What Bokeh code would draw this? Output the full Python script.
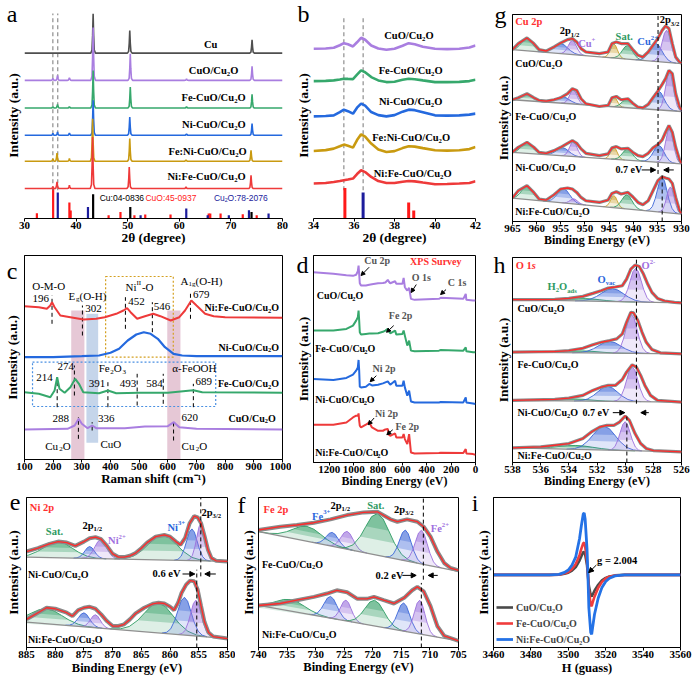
import numpy as np
from bokeh.plotting import figure
from bokeh.models import (Range1d, FixedTicker, Label, Arrow, NormalHead, Legend, LegendItem,
                          CustomJSTickFormatter, Title)
from bokeh.layouts import row, column
from bokeh.embed import file_html
from bokeh.resources import INLINE

SERIF = "Liberation Serif"
SANS = "Liberation Sans"
S = 1.0  # reference px -> page px

# ------------------------------------------------------------------ DATA
# (a) XRD patterns: stacking offsets, peak positions (2theta) and peak heights (a.u.)
A_SAMPLES = ["Cu", "CuO/Cu2O", "Fe-CuO/Cu2O", "Ni-CuO/Cu2O", "Fe:Ni-CuO/Cu2O", "Ni:Fe-CuO/Cu2O"]
A_OFFSETS = [165.6, 138.3, 110.6, 83.3, 57.3, 30.0]
A_PEAK_POS = [
    [43.3, 50.4, 74.1],
    [35.5, 36.4, 38.7, 43.3, 50.5, 61.4, 74.1],
    [35.5, 36.4, 38.7, 43.3, 50.5, 61.4, 74.1],
    [35.5, 36.4, 38.7, 43.3, 50.4, 61.4, 74.1],
    [35.5, 36.3, 38.7, 43.2, 50.4, 61.3, 73.9],
    [35.5, 36.3, 38.7, 43.2, 50.3, 61.3, 73.9],
]
A_PEAK_H = [
    [39.5, 22.7, 13.4],
    [2.0, 5.0, 2.7, 53.0, 26.7, 1.5, 14.0],
    [1.5, 3.7, 1.5, 37.7, 21.0, 1.2, 13.7],
    [2.0, 3.3, 2.3, 35.0, 18.3, 1.5, 11.7],
    [2.5, 8.3, 2.7, 42.7, 22.7, 1.3, 11.0],
    [2.0, 6.6, 3.3, 51.6, 21.6, 1.5, 13.3],
]
# reference cards (stick positions / relative heights)
REF_CU_POS = [43.3, 50.5, 74.0]
REF_CU_H = [24.3, 11.6, 6.6]
REF_CUO_POS = [32.4, 35.55, 38.7, 38.95, 46.3, 48.6, 51.3, 53.4, 58.3, 65.7, 66.0, 68.0, 72.3, 75.0]
REF_CUO_H = [5.3, 30.5, 16.0, 8.0, 3.3, 6.6, 3.3, 4.0, 4.0, 5.0, 5.0, 5.0, 4.3, 3.3]
REF_CU2O_POS = [36.45, 42.3, 52.5, 61.35, 65.5, 69.6, 73.5, 77.3]
REF_CU2O_H = [26.0, 11.6, 3.3, 10.0, 3.3, 3.3, 8.3, 5.0]

# (b) zoomed XRD
B_X = [34.0, 34.6, 35.0, 35.3, 35.5, 35.7, 35.95, 36.15, 36.35, 36.55, 36.85, 37.2, 37.6, 38.0,
       38.4, 38.7, 39.0, 39.4, 40.0, 40.6, 41.2, 41.7, 42.0]
B_CUO = [170, 170.3, 171, 173.5, 175.6, 174.5, 172.3, 176.5, 181, 179, 173.3, 170.3, 169, 170,
         173, 175.6, 174.5, 172, 170, 169.6, 170, 171.3, 173.3]
B_FE = [137.6, 137.8, 138.3, 139.2, 140, 139.8, 139.6, 144, 148.3, 146.5, 141.6, 138.3, 136.6, 137,
        139, 140, 139.5, 138.3, 136.6, 136.6, 136.8, 137.6, 139]
B_NI = [102.3, 102.6, 103.3, 106.5, 109, 107.5, 105, 111, 115, 113, 106.6, 103.5, 102.3, 103.5,
        107, 109, 108.5, 106.5, 103.3, 103, 103.3, 104, 105]
B_FENI = [67.6, 68.5, 70, 72.3, 74, 72.8, 71, 78.5, 84.3, 82, 75, 69, 66.6, 67.5,
          70.5, 72.3, 72, 70.5, 68.3, 68, 68.3, 69.5, 71.6]
B_NIFE = [35, 35.5, 36.6, 37.5, 38.3, 39, 40, 44.5, 48.3, 46.5, 41.6, 37.5, 35.5, 35.5,
          36.8, 37.6, 37.2, 36, 34.3, 34.6, 35, 35.6, 37.3]

# (c) Raman spectra
C_NIFE_X = [100, 150, 178, 190, 196, 205, 225, 260, 306, 350, 380, 420, 445, 458, 470, 493, 520, 549,
            574, 610, 640, 660, 682, 700, 730, 760, 800, 1000]
C_NIFE_Y = [153.3, 152.3, 150.7, 154, 157.3, 152.3, 144, 142.3, 140, 140.7, 142.3, 145.7, 149, 151.3,
            147.3, 140.7, 143.3, 145.7, 143.3, 139, 142.3, 149, 159, 154, 145.7, 143.3, 142.3, 141.7]
C_NI_X = [100, 200, 300, 360, 400, 430, 460, 490, 516, 540, 565, 590, 620, 650, 700, 1000]
C_NI_Y = [102.3, 102.3, 103.3, 104, 106.7, 110.7, 119, 125, 127.3, 125.7, 120.7, 112.3, 105.7, 104,
          103.3, 103.3]
C_FE_X = [100, 150, 190, 205, 214, 222, 240, 260, 277, 290, 305, 360, 391, 420, 500, 600, 689, 720, 1000]
C_FE_Y = [67.3, 65.7, 62.3, 69, 82.3, 70.7, 66.7, 72.3, 80.7, 75.7, 67.3, 66.3, 69, 66.3, 66.7, 66.7,
          69.3, 67.3, 66.7]
C_CUO_X = [100, 250, 275, 289, 300, 320, 336, 350, 450, 520, 600, 621, 640, 700, 1000]
C_CUO_Y = [30, 30.7, 34, 40.7, 35.7, 31.3, 34, 31.3, 31.3, 33, 33.3, 37.3, 32.3, 30.7, 30]
C_PEAKS_NIFE = [196, 302, 452, 546, 679]
C_PEAKS_FE = [214, 274, 391, 493, 584, 689]
C_PEAKS_CUO = [288, 336, 620]

# (d) XPS survey
D_BE = [1330, 1167, 1060, 1006, 980, 966, 960, 955, 950, 940, 900, 872, 850, 800, 760, 740, 720, 711,
        700, 660, 650, 600, 590, 580, 560, 545, 530, 500, 300, 285, 100, 80, 75, 20, 0]
D_CUO = [190, 188.4, 187, 186.4, 187.5, 191, 196.7, 188.4, 179, 176.7, 176.7, 177.5, 178, 179, 179.2,
         179.7, 182.4, 180.5, 179, 181, 178.4, 178.4, 184.4, 175, 171.7, 174.4, 163.4, 162.4, 163.4,
         164.5, 163.4, 168.4, 162.4, 161.7, 161.7]
D_FE = [131.7, 131.7, 133.4, 136.7, 141.7, 145, 151.7, 141.7, 130, 127.7, 128.4, 128.7, 128.8, 129,
        130.5, 131.7, 133.4, 131, 129, 131.7, 127.7, 128.4, 131.7, 126.7, 116.7, 121.7, 111.7, 111,
        111.7, 112.3, 111.7, 115, 111, 110, 110]
D_NI = [83.4, 82.4, 84.4, 87.7, 91.7, 95, 102.4, 91.7, 75.7, 75, 75.7, 78.4, 77, 77.7, 79, 80, 81,
        79.5, 77.7, 81.7, 76.7, 76.7, 81.7, 75, 66.7, 71.7, 61, 60, 60, 60.5, 60, 65, 60, 59, 58.4]
D_NIFE = [37.7, 37.7, 40, 45, 46.7, 46.7, 49, 41.7, 36.7, 35, 37.7, 40, 35, 31.7, 31.7, 33, 33.4,
          27.7, 26.7, 29, 25, 25, 28.4, 23.4, 18.4, 28.4, 10, 9, 9.4, 9.8, 9.4, 13.4, 9, 8.4, 7.7]

# Fitted-peak shape template (offsets in FWHM units, relative heights)
PU = [-1.4, -1.1, -0.85, -0.6, -0.4, -0.2, 0.0, 0.2, 0.4, 0.6, 0.85, 1.1, 1.4]
PV = [0.004, 0.035, 0.135, 0.37, 0.64, 0.9, 1.0, 0.9, 0.64, 0.37, 0.135, 0.035, 0.004]

# (g) Cu 2p: measured envelopes, baselines (left,right) and components (centre, height, fwhm, kind)
G_BE = [965, 963.8, 962, 960.6, 959.5, 958, 956.4, 955, 953.6, 952.6, 951.7, 950.8, 949.8, 947, 945.2,
        944.4, 943.5, 942.5, 941.1, 940.1, 939, 938, 936.9, 935.9, 934.9, 934, 933.3, 932.6, 931.9,
        931.2, 930.4, 930]
G_CUO = [171.4, 177.4, 183, 177.4, 171.4, 170, 174, 178, 181.4, 182.4, 179, 172.4, 169, 167.4, 169,
         177.4, 179, 177.4, 177.4, 171.4, 165.7, 164, 169, 175.7, 182.4, 190.7, 195, 192.4, 177.4, 164,
         159, 158]
G_FE = [121.4, 123.4, 127.4, 123.4, 120.7, 120, 121.4, 123.4, 127.4, 132.4, 130.7, 122.4, 117.4, 114.7,
        115.7, 123.4, 124.7, 121.4, 122.4, 118, 114, 113.4, 116.7, 123.4, 130, 136.7, 142.4, 150.7,
        147.4, 127.4, 114, 111.4]
G_NI = [69, 74, 79, 74, 69, 68, 70.7, 74, 78, 80.7, 78, 72.4, 68, 65.7, 67.4, 73.4, 74.7, 72.4, 73, 69,
        65.7, 64.7, 68, 73.4, 76.7, 81.4, 89, 95.7, 89, 74, 61.4, 58]
G_NIFE = [23.4, 30.7, 35.7, 29, 22.4, 21.4, 26.7, 32.4, 33.4, 32.4, 29, 24, 20.7, 19, 21.4, 28, 29.7,
          27.4, 29, 24.7, 19, 16.7, 20.7, 30.7, 40.7, 44.7, 43.4, 42.4, 38, 24, 10.7, 8]
G_BASE = [(171.4, 157.4), (121.4, 109.7), (69.0, 57.4), (23.4, 7.4)]
G_COMP_CUO = [(962.0, 13, 2.6, "g"), (955.0, 10, 3.4, "b"), (952.6, 14, 2.0, "p"), (944.0, 14, 1.7, "y"),
              (941.2, 13.5, 2.5, "g"), (935.3, 18, 3.0, "b"), (933.1, 32, 2.2, "p")]
G_COMP_FE = [(962.0, 6.5, 2.6, "g"), (954.6, 6.5, 3.2, "b"), (952.4, 14, 1.8, "p"), (944.0, 10, 1.6, "y"),
             (941.3, 8.5, 2.4, "g"), (934.8, 19, 2.8, "b"), (932.5, 38, 1.9, "p")]
G_COMP_NI = [(962.0, 11, 2.6, "g"), (954.6, 8, 3.0, "b"), (952.4, 15, 1.8, "p"), (944.0, 12, 1.6, "y"),
             (941.2, 11, 2.4, "g"), (934.7, 17, 2.6, "b"), (932.5, 34, 1.9, "p")]
G_COMP_NIFE = [(962.0, 13.5, 2.6, "g"), (954.4, 14, 3.0, "b"), (952.3, 5, 1.8, "p"), (944.0, 12, 1.6, "y"),
               (941.3, 14, 2.5, "g"), (934.0, 35, 2.4, "b"), (932.3, 26, 1.8, "p")]

# (h) O 1s
H_BE_CUO = [538, 536, 535, 534, 533, 532.3, 531.7, 531.2, 530.7, 530.2, 529.9, 529.6, 529.3, 529, 528.7,
            528.4, 528.1, 527.7, 527.2, 526.5, 526]
H_CUO = [163.3, 163.3, 163.6, 164.6, 166.6, 169.6, 172.3, 175, 176, 177.3, 184, 194, 198, 196.6, 189,
         179, 170.6, 164.6, 162, 160.6, 160]
H_BE_FE = [538, 535, 534, 533, 532.3, 531.7, 531.1, 530.6, 530.2, 529.9, 529.6, 529.4, 529.1, 528.8,
           528.5, 528.1, 527.5, 526]
H_FE = [110.6, 111.3, 112.3, 114.6, 118, 120.6, 122.3, 124, 129, 140.6, 150.6, 150, 142.3, 130.6, 120.6,
        113.3, 110, 109]
H_BE_NI = [538, 535, 534, 533, 532.3, 531.7, 531.2, 530.7, 530.2, 529.9, 529.5, 529.2, 528.9, 528.6,
           528.2, 527.7, 526]
H_NI = [62.3, 63.3, 64.6, 67.3, 72.3, 75.6, 77.3, 77.3, 83.3, 90.6, 98, 95.6, 87.3, 77.3, 67.3, 62.3, 60.6]
H_BE_NIFE = [538, 536, 535, 534, 533, 532.4, 531.8, 531.3, 530.8, 530.4, 530, 529.7, 529.3, 528.9, 528.5,
             528, 526]
H_NIFE = [14.6, 15.6, 17.3, 19, 24, 30.6, 35.6, 37.3, 37.3, 40.6, 46.6, 42.3, 29, 19, 14, 12, 10.6]
H_BASE = [(163.3, 160.0), (110.6, 109.0), (62.3, 60.6), (14.6, 10.6)]
H_COMP_CUO = [(532.8, 2.5, 2.5, "g"), (530.9, 13, 1.9, "b"), (529.25, 34, 0.95, "p")]
H_COMP_FE = [(533.0, 2.0, 2.5, "g"), (531.1, 11.7, 1.9, "b"), (529.55, 39, 0.95, "p")]
H_COMP_NI = [(533.5, 2.0, 2.5, "g"), (531.25, 15, 1.7, "b"), (529.5, 35, 0.95, "p")]
H_COMP_NIFE = [(533.5, 4.0, 3.0, "g"), (531.5, 24, 1.9, "b"), (530.0, 29, 0.85, "p")]

# (e) Ni 2p
E_BE_NI = [885, 883, 881, 879.5, 878, 876.5, 875, 874, 873, 872, 871, 870, 869, 868, 867, 866, 865, 864,
           862.5, 861, 860, 859, 858.2, 857.4, 856.6, 855.8, 855.2, 854.6, 854, 853.4, 852.8, 852, 850]
E_NI = [96.6, 100, 104.3, 106.6, 105.6, 102.3, 106.6, 110, 111, 109, 102.3, 94.3, 91, 91, 92.3, 95, 100,
        105.6, 111.6, 113.3, 111.6, 106.6, 103.3, 110, 125, 132.3, 131, 125, 112.3, 98.3, 90, 87.3, 86.6]
E_BE_NIFE = [885, 883, 881.5, 880, 878, 877, 876, 875, 874, 873, 872, 871, 870, 869, 868, 867, 866, 864.5,
             863, 862, 861, 860, 859.3, 858.6, 858, 857.2, 856.5, 855.8, 855.2, 854.6, 854, 853.3, 852.5, 850]
E_NIFE = [28.3, 35, 40, 39, 35, 31.6, 37.6, 40, 41, 39, 33.3, 26.6, 21.6, 21.6, 23.3, 28.3, 34.3, 40, 44,
          45, 44.3, 41, 37.6, 45, 55, 63.3, 67.3, 66.6, 58.3, 41.6, 25.6, 15, 11, 9]
E_BASE = [(91.0, 86.6), (25.6, 9.0)]
E_COMP_NI = [(879.5, 16, 6.0, "g"), (874.0, 12, 2.0, "b"), (872.1, 19, 2.4, "p"), (861.3, 25, 6.0, "g"),
             (856.2, 32, 2.2, "b"), (854.6, 38, 1.8, "p")]
E_COMP_NIFE = [(881.5, 15, 6.5, "g"), (875.0, 14, 2.3, "b"), (873.0, 13, 2.0, "p"), (862.0, 30, 6.0, "g"),
               (857.5, 38, 2.8, "b"), (855.5, 36, 2.2, "p")]

# (f) Fe 2p
F_BE_FE = [740, 736.2, 733.3, 730.3, 727.4, 724.5, 721.6, 719.2, 716.9, 715.7, 714, 712.2, 711.1, 709.9,
           708.7, 707.5, 706.4, 705]
F_FE = [118.3, 121.6, 123.3, 125.6, 129, 133.3, 136, 136.6, 129, 126.6, 129, 126.6, 121.6, 111.6, 96.6,
        85, 80, 77.6]
F_BE_NIFE = [740, 736.2, 733.3, 730.3, 728, 726.3, 724.5, 722.7, 721, 719.8, 718.1, 716.3, 714.5, 713.1,
             712.2, 711.1, 709.9, 708.7, 707.5, 705]
F_NIFE = [42.3, 44.3, 47.6, 51, 54.3, 57.6, 55.6, 49, 49, 51, 47.6, 44.3, 50, 57.6, 61, 56.6, 41.6, 21.6,
          11.6, 6.6]
F_BASE = [(116.6, 76.6), (42.3, 6.6)]
F_COMP_FE = [(731.5, 15, 6.0, "g"), (727.1, 14, 2.5, "b"), (724.5, 18, 2.5, "p"), (719.2, 42, 5.0, "g"),
             (714.3, 31, 2.5, "b"), (711.5, 34, 2.5, "p")]
F_COMP_NIFE = [(734.4, 11.7, 6.0, "g"), (727.4, 22, 2.7, "b"), (724.7, 21, 2.2, "p"), (719.7, 26, 4.0, "g"),
               (714.6, 28.5, 2.5, "b"), (711.8, 34, 2.2, "p")]

# (i) EPR
I_H = [3460, 3490, 3495, 3498, 3500, 3502, 3504, 3506, 3507, 3508, 3508.5, 3509, 3510, 3510.5, 3511,
       3512, 3512.5, 3513, 3514, 3516, 3518, 3520, 3522, 3525, 3530, 3560]
I_CUO = [0, 0, 0.2, 1.2, 2.2, 4.4, 8, 14.5, 19, 23, 23.3, 21, 10, 0, -11, -20.5, -21.7, -20, -16, -10,
         -5.5, -3, -1.5, -0.5, 0, 0]
I_FE = [0, 0, 0.3, 1.6, 3, 6, 11, 20, 26.6, 32, 32.6, 29, 14, 0, -16, -30, -31.7, -28, -22, -13, -7,
        -3.6, -1.8, -0.6, 0, 0]
I_NIFE = [0, 0, 0.6, 2.6, 5, 10, 18.3, 36.6, 50, 61.6, 62.6, 56.6, 26.6, 0, -33.3, -58.3, -60, -53.3,
          -40, -23.3, -12.6, -6.6, -3.3, -1, 0, 0]

# ------------------------------------------------------------------ STYLE
COL_CU = "#4f4f4f"; COL_PU = "#a97ee0"; COL_GR = "#36a86c"; COL_BL = "#2469de"; COL_GO = "#c99a10"
COL_RE = "#ee3a3a"
COMP = {"g": "#2f9d64", "b": "#3c66d8", "p": "#9b72dc", "y": "#c9a02c"}
TXT_GR = "#2e9a62"; TXT_BL = "#2a66dc"; TXT_PU = "#a070e0"; TXT_RE = "#ff3030"; TXT_GY = "#555555"

WID = {'A': .722, 'B': .667, 'C': .722, 'D': .722, 'E': .667, 'F': .611, 'G': .778, 'H': .778, 'I': .389,
       'J': .5, 'K': .778, 'L': .667, 'M': .944, 'N': .722, 'O': .778, 'P': .611, 'Q': .778, 'R': .722,
       'S': .556, 'T': .667, 'U': .722, 'V': .722, 'W': 1.0, 'X': .722, 'Y': .722, 'Z': .667,
       'a': .5, 'b': .556, 'c': .444, 'd': .556, 'e': .444, 'f': .333, 'g': .5, 'h': .556, 'i': .278,
       'j': .333, 'k': .556, 'l': .278, 'm': .833, 'n': .556, 'o': .5, 'p': .556, 'q': .556, 'r': .444,
       's': .389, 't': .333, 'u': .556, 'v': .5, 'w': .722, 'x': .5, 'y': .5, 'z': .444,
       ' ': .25, '-': .333, '/': .278, ':': .333, '.': .25, '(': .333, ')': .333, '+': .57, '=': .57}


class Panel:
    def __init__(self, tile, frame, xr, yr, box=True):
        tx, ty, tw_, th = tile
        fx0, fy0, fx1, fy1 = frame
        self.frame = frame
        self.xr = xr
        self.yr = yr
        self.box = box
        left = int(round(fx0 * S - tx))
        right = tw_ - int(round(fx1 * S - tx))
        top = int(round(fy0 * S - ty))
        bottom = th - int(round(fy1 * S - ty))
        p = figure(width=tw_, height=th, x_range=Range1d(xr[0], xr[1]), y_range=Range1d(yr[0], yr[1]),
                   output_backend="svg", toolbar_location=None, tools="",
                   min_border_left=left, min_border_right=right, min_border_top=top,
                   min_border_bottom=bottom)
        p.xgrid.visible = False
        p.ygrid.visible = False
        p.outline_line_color = "black" if box else None
        p.outline_line_width = 1
        p.background_fill_color = "white"
        p.border_fill_color = "white"
        self.fig = p

    def d(self, rx, ry):
        fx0, fy0, fx1, fy1 = self.frame
        x = self.xr[0] + (rx - fx0) / (fx1 - fx0) * (self.xr[1] - self.xr[0])
        y = self.yr[0] + (fy1 - ry) / (fy1 - fy0) * (self.yr[1] - self.yr[0])
        return x, y


def set_xaxis(P, ticks, title, title_standoff, title_size=12.5):
    ax = P.fig.xaxis[0]
    ax.ticker = FixedTicker(ticks=ticks)
    ax.major_label_text_font = SERIF
    ax.major_label_text_font_style = "bold"
    ax.major_label_text_font_size = "11px"
    ax.major_label_text_color = "black"
    ax.major_tick_in = 0
    ax.major_tick_out = 3
    ax.minor_tick_in = 0
    ax.minor_tick_out = 0
    ax.major_label_standoff = 0
    ax.axis_line_color = "black"
    ax.major_tick_line_color = "black"
    P.fig.add_layout(Title(text=title, align="center", vertical_align="middle", standoff=title_standoff,
                           text_font=SERIF, text_font_style="bold", text_font_size=f"{title_size}px",
                           text_color="black"), "below")


def set_yaxis(P, ch, letter_ry, letter_standoff, title_standoff, title="Intensity (a.u.)", title_size=13.5):
    p = P.fig
    ax = p.yaxis[0]
    ry = max(letter_ry, P.frame[1] + 0.4)
    yv = round(P.d(0, ry)[1], 3)
    ax.ticker = FixedTicker(ticks=[yv])
    ax.formatter = CustomJSTickFormatter(code="return '%s';" % ch)
    ax.major_label_text_font = SERIF
    ax.major_label_text_font_style = "normal"
    ax.major_label_text_font_size = "24px"
    ax.major_label_text_color = "black"
    ax.major_label_standoff = letter_standoff
    ax.major_tick_in = 0
    ax.major_tick_out = 0
    ax.minor_tick_in = 0
    ax.minor_tick_out = 0
    ax.axis_line_color = "black" if P.box else None
    ax.axis_label = title
    ax.axis_label_text_font = SERIF
    ax.axis_label_text_font_style = "bold"
    ax.axis_label_text_font_size = f"{title_size}px"
    ax.axis_label_text_color = "black"
    ax.axis_label_standoff = title_standoff


def rich(P, rx, ry, parts, size=10.5, color="black", align="left", weight="bold", font=SERIF):
    segs = []
    total = 0.0
    for t, k in parts:
        fs = size * 0.64 if k in ("sub", "sup") else size
        w = sum(WID.get(ch, 0.5) for ch in t) * fs / S
        segs.append((t, k, fs, w))
        total += w
    if align == "left":
        x = rx
    elif align == "right":
        x = rx - total
    else:
        x = rx - total / 2
    for t, k, fs, w in segs:
        dy = size * 0.32 if k == "sub" else (-size * 0.38 if k == "sup" else 0.0)
        style = weight
        if k == "i":
            style = "bold italic" if weight == "bold" else "italic"
        lead = len(t) - len(t.lstrip(" "))
        xs = x + lead * 0.25 * fs / S
        X, Y = P.d(xs, ry + dy)
        P.fig.add_layout(Label(x=X, y=Y, text=t.strip(" "), text_font=font,
                               text_font_size=f"{fs:.1f}px", text_font_style=style, text_color=color,
                               text_align="left", text_baseline="middle"))
        x += w


def arrow(P, r0, r1, color="black", size=5):
    x0, y0 = P.d(*r0)
    x1, y1 = P.d(*r1)
    P.fig.add_layout(Arrow(end=NormalHead(size=size, fill_color=color, line_color=color),
                           x_start=x0, y_start=y0, x_end=x1, y_end=y1, line_color=color, line_width=1))


def dash(P, x, y0, y1, color="black"):
    P.fig.segment(x0=[x], y0=[y0], x1=[x], y1=[y1], line_color=color, line_dash="4 3", line_width=1)


def cuo(prefix):
    return [(prefix + "CuO/Cu", "n"), ("2", "sub"), ("O", "n")]


XRD_U = [-0.45, -0.22, -0.1, 0.0, 0.1, 0.22, 0.45]
XRD_V = [0.0, 0.08, 0.45, 1.0, 0.45, 0.08, 0.0]


def xrd_curve(pos_list, h_list, x0, x1):
    pts = [(x0, 0.0), (x1, 0.0)]
    for pos, h in zip(pos_list, h_list):
        for u, v in zip(XRD_U, XRD_V):
            pts.append((pos + u, h * v))
    pts.sort(key=lambda t: t[0])
    return [t[0] for t in pts], [t[1] for t in pts]


def draw_xps(P, base_vals, comps, env_x, env_y, data_w=3.5):
    p = P.fig
    bx = np.array([P.xr[0], P.xr[1]], dtype=float)
    by = np.array(base_vals, dtype=float)
    o = np.argsort(bx)
    pv = np.array(PV)
    for c, h, F, k in comps:
        xs = np.array([c + u * F for u in PU])
        b = np.interp(xs, bx[o], by[o])
        ys = b + h * pv
        col = COMP[k]
        p.patch(list(xs) + [xs[-1], xs[0]], list(ys) + [b[-1], b[0]], fill_color=col,
                fill_alpha=0.16, line_color=None)
        p.patch(list(xs[3:10]), list(ys[3:10]), fill_color=col, fill_alpha=0.3, line_color=None)
        p.patch(list(xs[4:9]), list(ys[4:9]), fill_color=col, fill_alpha=0.35, line_color=None)
        p.line(list(xs), list(ys), line_color=col, line_width=0.9)
    p.line(list(bx), list(by), line_color="#8f8f8f", line_width=1.3)
    p.line(env_x, env_y, line_color="#8a8a8a", line_width=data_w)
    p.line(env_x, env_y, line_color="#ff2a2a", line_width=1.3)


# ------------------------------------------------------------------ PANEL a
PA = Panel((0, 0, 291, 250), (24.3, 12, 281.7, 218.3), (30, 80), (0, 206.3), box=False)
set_xaxis(PA, [30, 40, 50, 60, 70, 80], "2θ (degree)", -6, title_size=13.5)
set_yaxis(PA, "a", 12.2, 7, -17)
pa = PA.fig
pa.segment(x0=REF_CUO_POS, y0=0, x1=REF_CUO_POS, y1=REF_CUO_H, line_color="#ff1a1a", line_width=2.2)
pa.segment(x0=REF_CU2O_POS, y0=0, x1=REF_CU2O_POS, y1=REF_CU2O_H, line_color="#1c1c9c", line_width=2.2)
pa.segment(x0=REF_CU_POS, y0=0, x1=REF_CU_POS, y1=REF_CU_H, line_color="black", line_width=2.2)
for xv in (35.5, 36.45):
    pa.segment(x0=[xv], y0=[28.3], x1=[xv], y1=[205.3], line_color="#777777", line_dash="4 3", line_width=1)
A_COLORS = [COL_CU, COL_PU, COL_GR, COL_BL, COL_GO, COL_RE]
for off, pos, hh, col in zip(A_OFFSETS, A_PEAK_POS, A_PEAK_H, A_COLORS):
    xs, ys = xrd_curve(pos, hh, 30, 80)
    pa.line(xs, [off + v for v in ys], line_color=col, line_width=1.6)
rich(PA, 216.7, 44, [("Cu", "n")], align="right")
rich(PA, 237.7, 70, cuo(""), align="right")
rich(PA, 245, 97, cuo("Fe-"), align="right")
rich(PA, 245, 124, cuo("Ni-"), align="right")
rich(PA, 246, 151, cuo("Fe:Ni-"), align="right")
rich(PA, 245, 176, cuo("Ni:Fe-"), align="right")
rich(PA, 99.3, 197.3, [("Cu:04-0836", "n")], size=8.5, font=SANS, weight="normal")
rich(PA, 145, 197.3, [("CuO:45-0937", "n")], size=8.5, font=SANS, weight="normal", color="#ff1a1a")
rich(PA, 213.3, 197.3, [("Cu", "n"), ("2", "sub"), ("O:78-2076", "n")], size=8.5, font=SANS,
     weight="normal", color="#1c1c9c")

# ------------------------------------------------------------------ PANEL b
PB = Panel((291, 0, 194, 250), (312.7, 12, 475, 218.3), (34, 42), (0, 206.3), box=False)
set_xaxis(PB, [34, 36, 38, 40, 42], "2θ (degree)", -6, title_size=13.5)
set_yaxis(PB, "b", 11.5, 4, -16)
pb = PB.fig
for xv in (35.5, 36.45):
    pb.segment(x0=[xv], y0=[28.3], x1=[xv], y1=[203.3], line_color="#777777", line_dash="4 3", line_width=1)
pb.segment(x0=REF_CUO_POS, y0=0, x1=REF_CUO_POS, y1=REF_CUO_H, line_color="#ff1a1a", line_width=3)
pb.segment(x0=REF_CU2O_POS, y0=0, x1=REF_CU2O_POS, y1=REF_CU2O_H, line_color="#1c1c9c", line_width=3)
for ys, col in zip([B_CUO, B_FE, B_NI, B_FENI, B_NIFE], [COL_PU, COL_GR, COL_BL, COL_GO, COL_RE]):
    pb.line(B_X, ys, line_color=col, line_width=2.6)
rich(PB, 408.3, 35, cuo(""), align="center")
rich(PB, 410, 70, cuo("Fe-"), align="center")
rich(PB, 410, 101, cuo("Ni-"), align="center")
rich(PB, 410.5, 137, cuo("Fe:Ni-"), align="center")
rich(PB, 412, 173, cuo("Ni:Fe-"), align="center")

# ------------------------------------------------------------------ PANEL c
PC = Panel((0, 250, 291, 239), (24.3, 255, 281.7, 459), (100, 1000), (0, 204), box=True)
set_xaxis(PC, [100, 200, 300, 400, 500, 600, 700, 800, 900, 1000], "Raman shift (cm⁻¹)", -6, title_size=13)
set_yaxis(PC, "c", 253.2, 7, -16)
pc = PC.fig
pc.quad(left=[263, 598], right=[309, 644], bottom=[0, 0], top=[149, 149], fill_color="#e6c8d6",
        line_color=None)
pc.quad(left=[316], right=[357], bottom=[16.7], top=[145.7], fill_color="#c5d5ea", line_color=None)
pc.quad(left=[383], right=[619], bottom=[102.3], top=[183], fill_color=None, line_color="#d4a020",
        line_dash="2 2", line_width=1.2)
pc.quad(left=[128], right=[767], bottom=[53], top=[97.3], fill_color=None, line_color="#4a90e2",
        line_dash="2 2", line_width=1.2)
for xv, y0, y1 in zip(C_PEAKS_NIFE, [135.7, 124, 130.7, 127.3, 140.7], [164, 154, 162.3, 157.3, 166]):
    dash(PC, xv, y0, y1)
for xv, y0, y1 in zip(C_PEAKS_FE, [52.3, 64, 52.3, 54, 55.7, 52.3], [82.3, 94, 79, 85.7, 85.7, 75.7]):
    dash(PC, xv, y0, y1)
for xv, y0, y1 in zip(C_PEAKS_CUO, [20.7, 29, 19], [42.3, 37.3, 37.3]):
    dash(PC, xv, y0, y1)
pc.line(C_NIFE_X, C_NIFE_Y, line_color=COL_RE, line_width=2)
pc.line(C_NI_X, C_NI_Y, line_color=COL_BL, line_width=2.2)
pc.line(C_FE_X, C_FE_Y, line_color=COL_GR, line_width=2)
pc.line(C_CUO_X, C_CUO_Y, line_color=COL_PU, line_width=2)
RN = dict(size=11, weight="normal")
rich(PC, 32, 285, [("O-M-O", "n")], **RN)
rich(PC, 32.3, 298.3, [("196", "n")], **RN)
rich(PC, 68.3, 295, [("E", "n"), ("g", "sub"), ("(O-H)", "n")], **RN)
rich(PC, 85, 307.7, [("302", "n")], **RN)
rich(PC, 125, 286.7, [("Ni", "n"), ("II", "sup"), ("-O", "n")], **RN)
rich(PC, 127.7, 301, [("452", "n")], **RN)
rich(PC, 153.3, 306, [("546", "n")], **RN)
rich(PC, 180, 280, [("A", "n"), ("1g", "sub"), ("(O-H)", "n")], **RN)
rich(PC, 192.3, 294, [("679", "n")], **RN)
rich(PC, 98.3, 367.7, [("Fe", "n"), ("2", "sub"), ("O", "n"), ("3", "sub")], **RN)
rich(PC, 171.7, 367.7, [("α-FeOOH", "n")], **RN)
rich(PC, 36, 376.7, [("214", "n")], **RN)
rich(PC, 57.3, 365.7, [("274", "n")], **RN)
rich(PC, 88.3, 383.3, [("391", "n")], **RN)
rich(PC, 119.3, 383.3, [("493", "n")], **RN)
rich(PC, 145.7, 383.3, [("584", "n")], **RN)
rich(PC, 195, 381, [("689", "n")], **RN)
rich(PC, 52.3, 417.7, [("288", "n")], **RN)
rich(PC, 97.7, 418, [("336", "n")], **RN)
rich(PC, 181, 416.7, [("620", "n")], **RN)
rich(PC, 45, 445, [("Cu", "n"), ("2", "sub"), ("O", "n")], **RN)
rich(PC, 100, 443.3, [("CuO", "n")], **RN)
rich(PC, 181, 445, [("Cu", "n"), ("2", "sub"), ("O", "n")], **RN)
rich(PC, 278.3, 307.3, cuo("Ni:Fe-"), size=10, align="right")
rich(PC, 278.3, 346.7, cuo("Ni-"), size=10, align="right")
rich(PC, 278.3, 383.3, cuo("Fe-"), size=10, align="right")
rich(PC, 275, 417.7, cuo(""), size=10, align="right")

# ------------------------------------------------------------------ PANEL d
PD = Panel((291, 250, 194, 239), (313.3, 255, 478.3, 461.7), (1330, 0), (0, 206.7), box=True)
set_xaxis(PD, [1200, 1000, 800, 600, 400, 200, 0], "Binding Energy (eV)", -6, title_size=12)
set_yaxis(PD, "d", 261.5, 5, -17)
pdd = PD.fig
for ys, col in zip([D_CUO, D_FE, D_NI, D_NIFE], [COL_PU, COL_GR, COL_BL, COL_RE]):
    pdd.line(D_BE, ys, line_color=col, line_width=2)
rich(PD, 365, 260, [("Cu 2p", "n")], size=10, color=TXT_GY)
arrow(PD, (370, 266.7), (361.7, 275), size=4)
rich(PD, 411.7, 261, [("XPS Survey", "n")], size=10, color=TXT_RE)
rich(PD, 413.3, 277.3, [("O 1s", "n")], size=10, color=TXT_GY)
arrow(PD, (418, 284), (412.7, 292), size=4)
rich(PD, 450, 282.3, [("C 1s", "n")], size=10, color=TXT_GY)
arrow(PD, (448.3, 289), (442.7, 294), size=4)
rich(PD, 316.7, 295, cuo(""), size=10)
rich(PD, 390, 315, [("Fe 2p", "n")], size=10, color=TXT_GY)
arrow(PD, (395, 325), (387.7, 331.7), size=4)
rich(PD, 315, 347.7, cuo("Fe-"), size=10)
rich(PD, 373.3, 368.3, [("Ni 2p", "n")], size=10, color=TXT_GY)
arrow(PD, (377.3, 375), (371, 381), size=4)
rich(PD, 315, 399, cuo("Ni-"), size=10)
rich(PD, 376, 412.7, [("Ni 2p", "n")], size=10, color=TXT_GY)
arrow(PD, (375, 417.3), (369, 424), size=4)
rich(PD, 396.7, 426, [("Fe 2p", "n")], size=10, color=TXT_GY)
arrow(PD, (394, 429), (388, 434), size=4)
rich(PD, 315, 451.7, cuo("Ni:Fe-"), size=10)

# ------------------------------------------------------------------ PANEL g
PG = Panel((485, 0, 208, 248), (512.3, 14.3, 680.7, 220.7), (965, 930), (0, 206.4), box=True)
set_xaxis(PG, [965, 960, 955, 950, 945, 940, 935, 930], "Binding Energy (eV)", -6, title_size=12)
set_yaxis(PG, "g", 10.8, 6, -19)
for base, comps, ys in zip(G_BASE, [G_COMP_CUO, G_COMP_FE, G_COMP_NI, G_COMP_NIFE],
                           [G_CUO, G_FE, G_NI, G_NIFE]):
    draw_xps(PG, base, comps, G_BE, ys, data_w=3.2)
dash(PG, 934.86, 47.4, 206.4)
dash(PG, 934.0, 0, 47.4)
rich(PG, 515, 21.7, [("Cu 2p", "n")], color=TXT_RE)
rich(PG, 559.3, 30.7, [("2p", "n"), ("1/2", "sub")])
rich(PG, 577.7, 43.3, [("Cu", "n"), ("+", "sup")], color=TXT_PU)
rich(PG, 615, 36.7, [("Sat.", "n")], color=TXT_GR)
rich(PG, 636.7, 41.7, [("Cu", "n"), ("2+", "sup")], color=TXT_BL)
rich(PG, 659, 19.5, [("2p", "n"), ("3/2", "sub")])
rich(PG, 515, 63.3, cuo(""), size=10)
rich(PG, 515, 116, cuo("Fe-"), size=10)
rich(PG, 515, 166.7, cuo("Ni-"), size=10)
rich(PG, 515, 210.7, cuo("Ni:Fe-"), size=10)
rich(PG, 615, 169.3, [("0.7 eV", "n")], size=10)
arrow(PG, (641, 169.3), (655, 169.3))
arrow(PG, (673, 169.3), (663, 169.3))

# ------------------------------------------------------------------ PANEL h
PH = Panel((485, 248, 208, 241), (511.7, 256.7, 680.7, 462.3), (538, 526), (0, 205.6), box=True)
set_xaxis(PH, [538, 536, 534, 532, 530, 528, 526], "Binding Energy (eV)", -6, title_size=12)
set_yaxis(PH, "h", 255.8, 7, -20)
for base, comps, bx, ys in zip(H_BASE, [H_COMP_CUO, H_COMP_FE, H_COMP_NI, H_COMP_NIFE],
                               [H_BE_CUO, H_BE_FE, H_BE_NI, H_BE_NIFE], [H_CUO, H_FE, H_NI, H_NIFE]):
    draw_xps(PH, base, comps, bx, ys, data_w=3.2)
dash(PH, 529.2, 59, 205.6)
dash(PH, 529.88, 0, 47.3)
rich(PH, 515, 265, [("O 1", "n"), ("s", "i")], color=TXT_RE)
rich(PH, 596.7, 278.3, [("O", "n"), ("vac", "sub")], color=TXT_BL)
rich(PH, 546.7, 286, [("H", "n"), ("2", "sub"), ("O", "n"), ("ads", "sub")], color=TXT_GR)
rich(PH, 640.7, 265, [("O", "n"), ("2-", "sup")], color=TXT_PU)
rich(PH, 516.7, 308.3, cuo(""), size=10)
rich(PH, 516.7, 364.3, cuo("Fe-"), size=10)
rich(PH, 516.7, 412.3, cuo("Ni-"), size=10)
rich(PH, 516.7, 455, cuo("Ni:Fe-"), size=10)
rich(PH, 581.7, 412.3, [("0.7 eV", "n")], size=10)
arrow(PH, (612, 412.3), (624, 412.3))
arrow(PH, (648, 412.3), (640, 412.3))

# ------------------------------------------------------------------ PANEL e
PE = Panel((0, 489, 235, 195), (25.7, 497.3, 226.7, 648.3), (885, 850), (0, 151), box=True)
set_xaxis(PE, [885, 880, 875, 870, 865, 860, 855, 850], "Binding Energy (eV)", -1.8)
set_yaxis(PE, "e", 502.5, 6, -14)
draw_xps(PE, E_BASE[0], E_COMP_NI, E_BE_NI, E_NI, data_w=4)
draw_xps(PE, E_BASE[1], E_COMP_NIFE, E_BE_NIFE, E_NIFE, data_w=4)
dash(PE, 854.65, 71.6, 151)
dash(PE, 855.35, 0, 78.3)
rich(PE, 29, 507.3, [("Ni 2p", "n")], color=TXT_RE)
rich(PE, 45, 531.7, [("Sat.", "n")], color=TXT_GR)
rich(PE, 81.7, 525, [("2p", "n"), ("1/2", "sub")])
rich(PE, 107.3, 540.7, [("Ni", "n"), ("2+", "sup")], color=TXT_PU)
rich(PE, 166.7, 527.3, [("Ni", "n"), ("3+", "sup")], color=TXT_BL)
rich(PE, 200.7, 512.3, [("2p", "n"), ("3/2", "sub")])
rich(PE, 27.3, 575, cuo("Ni-"), size=10)
rich(PE, 27.3, 640, cuo("Ni:Fe-"), size=10)
rich(PE, 151.7, 574.3, [("0.6 eV", "n")], size=10.5)
arrow(PE, (181.7, 574.3), (194, 574.3))
arrow(PE, (215, 574.3), (204, 574.3))

# ------------------------------------------------------------------ PANEL f
PF = Panel((235, 489, 233, 195), (258.3, 497.3, 457.7, 648.3), (740, 705), (0, 151), box=True)
set_xaxis(PF, [740, 735, 730, 725, 720, 715, 710, 705], "Binding Energy (eV)", -2.8)
set_yaxis(PF, "f", 499.7, 13, -21)
draw_xps(PF, F_BASE[0], F_COMP_FE, F_BE_FE, F_FE, data_w=4)
draw_xps(PF, F_BASE[1], F_COMP_NIFE, F_BE_NIFE, F_NIFE, data_w=4)
dash(PF, 711.15, 68.3, 151)
dash(PF, 711.5, 0, 65)
rich(PF, 263.3, 509.3, [("Fe 2p", "n")], color=TXT_RE)
rich(PF, 311.7, 516, [("Fe", "n"), ("3+", "sup")], color=TXT_BL)
rich(PF, 330, 505, [("2p", "n"), ("1/2", "sub")])
rich(PF, 366.7, 505, [("Sat.", "n")], color=TXT_GR)
rich(PF, 393.3, 509.3, [("2p", "n"), ("3/2", "sub")])
rich(PF, 430, 529, [("Fe", "n"), ("2+", "sup")], color=TXT_PU)
rich(PF, 261.7, 564.3, cuo("Fe-"), size=10)
rich(PF, 261.7, 635.7, cuo("Ni:Fe-"), size=10)
rich(PF, 375, 575.7, [("0.2 eV", "n")], size=10.5)
arrow(PF, (401.7, 575.7), (415.5, 575.7))
arrow(PF, (437, 575.7), (427.5, 575.7))

# ------------------------------------------------------------------ PANEL i
PI = Panel((468, 489, 225, 195), (493.3, 495, 680, 646.7), (3460, 3560), (-73.4, 78.3), box=True)
set_xaxis(PI, [3460, 3480, 3500, 3520, 3540, 3560], "H (guass)", -0.8)
set_yaxis(PI, "i", 499.7, 15, -22)
pi_ = PI.fig
r1 = pi_.line(I_H, I_CUO, line_color="#4a4a4a", line_width=2.6)
r2 = pi_.line(I_H, I_FE, line_color="#f03c3c", line_width=2.6)
r3 = pi_.line(I_H, I_NIFE, line_color="#2472e6", line_width=2.8)
leg = Legend(items=[LegendItem(label="CuO/Cu₂O", renderers=[r1]),
                    LegendItem(label="Fe-CuO/Cu₂O", renderers=[r2]),
                    LegendItem(label="Ni:Fe-CuO/Cu₂O", renderers=[r3])],
             location=(3, 2), border_line_color=None, background_fill_alpha=0, padding=0, margin=0,
             spacing=4, glyph_width=17, glyph_height=12, label_height=12, label_standoff=3,
             label_text_font=SERIF, label_text_font_style="bold", label_text_font_size="10px")
pi_.add_layout(leg)
rich(PI, 596.7, 559, [("g = 2.004", "n")], size=10.5)
arrow(PI, (596, 563.3), (588.3, 571))

layout = column(row(column(PA.fig, PC.fig), column(PB.fig, PD.fig), column(PG.fig, PH.fig)),
                row(PE.fig, PF.fig, PI.fig))
open("out.html", "w").write(file_html(layout, INLINE, title="figure"))
